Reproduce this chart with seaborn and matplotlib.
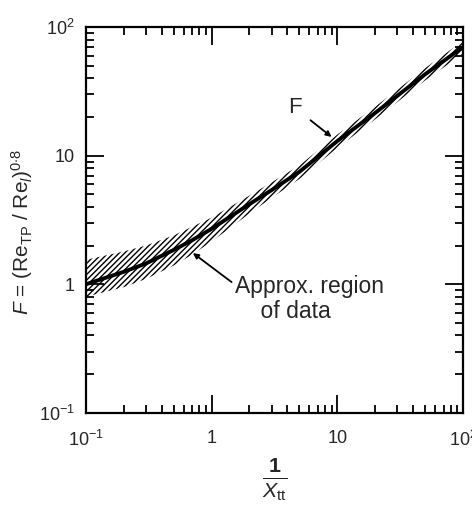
import numpy as np
import pandas as pd
import matplotlib
matplotlib.use("Agg")
import matplotlib.pyplot as plt
import matplotlib.ticker as mticker
import seaborn as sns

# values
inv_xtt = [0.1, 0.2, 0.3, 0.5, 0.7, 1, 2, 3, 5, 10, 20, 50, 100]
f_curve = [1.0, 1.25, 1.45, 1.85, 2.2, 2.7, 4.2, 5.4, 7.5, 13, 21.5, 43, 70]
f_upper = [1.55, 1.8, 2.0, 2.4, 2.8, 3.3, 4.9, 6.2, 8.4, 14.6, 24, 48, 78]
f_lower = [0.8, 0.95, 1.1, 1.4, 1.7, 2.15, 3.55, 4.7, 6.6, 11.5, 19.2, 38.5, 62]
tick_vals = [0.1, 1, 10, 100]
tick_labels = [r"$10^{-1}$", "1", "10", r"$10^{2}$"]

df = pd.DataFrame({"x": inv_xtt, "F": f_curve})

sns.set_theme(style="ticks")
plt.rcParams["font.family"] = ["Liberation Sans", "DejaVu Sans"]
plt.rcParams.update({
    "mathtext.fontset": "custom",
    "mathtext.rm": "Liberation Sans",
    "mathtext.it": "Liberation Sans:italic",
    "mathtext.bf": "Liberation Sans:bold",
    "hatch.linewidth": 1.0,
    "hatch.color": "black",
})

fig = plt.figure(figsize=(4.72, 5.11), dpi=100)
ax = fig.add_axes([0.182, 0.192, 0.799, 0.755])

ax.fill_between(inv_xtt, f_lower, f_upper, facecolor="none", edgecolor="black",
                hatch="//////", linewidth=0)
sns.lineplot(data=df, x="x", y="F", ax=ax, color="black", linewidth=2.8)

ax.set_xscale("log")
ax.set_yscale("log")
ax.set_xlim(0.1, 100)
ax.set_ylim(0.1, 100)

for axis in (ax.xaxis, ax.yaxis):
    axis.set_major_locator(mticker.FixedLocator(tick_vals))
    axis.set_major_formatter(mticker.FixedFormatter(tick_labels))
    axis.set_minor_locator(mticker.LogLocator(base=10, subs=np.arange(2, 10)))
    axis.set_minor_formatter(mticker.NullFormatter())

ax.tick_params(which="both", direction="in", top=True, right=True, color="black",
               width=1.3, labelsize=13)
ax.tick_params(which="major", length=13)
ax.tick_params(which="minor", length=6)
ax.tick_params(axis="x", which="major", pad=12)
ax.tick_params(axis="y", which="major", pad=8)
for s in ax.spines.values():
    s.set_linewidth(1.6)
    s.set_color("black")

ax.set_xlabel(r"$\frac{\mathbf{1}}{X_{\mathrm{tt}}}$", fontsize=22, labelpad=4)
ax.set_ylabel(r"$F$ = (Re$_{\mathrm{TP}}$ / Re$_{l}$)$^{0{\cdot}8}$", fontsize=15)
ax.yaxis.set_label_coords(-0.135, 0.47)

ax.annotate("F", xy=(9.0, 14.0), xytext=(4.6, 23.5), fontsize=16,
            ha="center", va="center",
            arrowprops=dict(arrowstyle="-|>", color="black", lw=1.3,
                            mutation_scale=8, shrinkA=5, shrinkB=0))
ax.annotate("Approx. region\n    of data", xy=(0.71, 1.75), xytext=(1.53, 0.77),
            fontsize=16.5, ha="left", va="center", linespacing=1.1,
            arrowprops=dict(arrowstyle="-|>", color="black", lw=1.3,
                            mutation_scale=8, shrinkA=0, shrinkB=0,
                            relpos=(0.0, 0.8)))

fig.savefig("out.png", dpi=100)
